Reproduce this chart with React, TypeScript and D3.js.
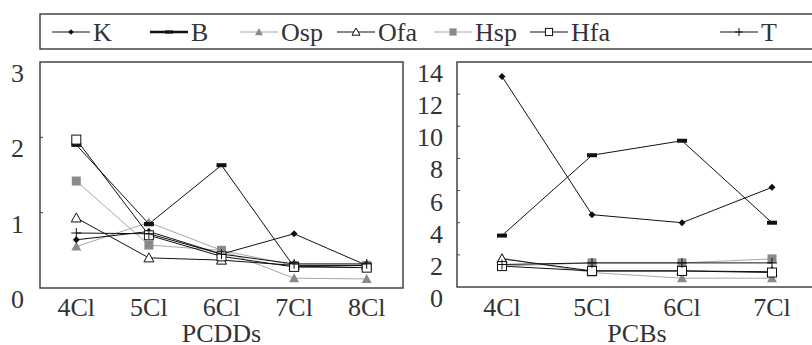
import React from "react";
import * as d3 from "d3";

// categories
const pcddCats = ["4Cl", "5Cl", "6Cl", "7Cl", "8Cl"];
const pcbCats = ["4Cl", "5Cl", "6Cl", "7Cl"];

// PCDDs series
const kDD = [0.64, 0.75, 0.45, 0.72, 0.3];
const bDD = [1.9, 0.85, 1.63, 0.28, 0.3];
const ospDD = [0.55, 0.87, 0.5, 0.13, 0.12];
const ofaDD = [0.93, 0.4, 0.37, 0.3, 0.3];
const hspDD = [1.42, 0.57, 0.5, 0.3, 0.3];
const hfaDD = [1.97, 0.7, 0.42, 0.28, 0.27];
const tDD = [0.73, 0.72, 0.45, 0.32, 0.32];

// PCBs series
const kCB = [13.1, 4.5, 4.0, 6.2];
const bCB = [3.2, 8.2, 9.1, 4.0];
const ospCB = [1.8, 0.9, 0.55, 0.55];
const ofaCB = [1.75, 1.0, 1.0, 0.95];
const hspCB = [1.3, 1.5, 1.5, 1.75];
const hfaCB = [1.3, 1.0, 1.0, 0.9];
const tCB = [1.4, 1.5, 1.5, 1.5];

const pcddTicks = [0, 1, 2, 3];
const pcbTicks = [0, 2, 4, 6, 8, 10, 12, 14];

const seriesNames = ["K", "B", "Osp", "Ofa", "Hsp", "Hfa", "T"];

const TXT = "#333";
const FS = 26;
const GRAY_M = "#8a8a8a";
const GRAY_L = "#a8a8a8";

const style: Record<string, { line: string; width: number }> = {
  K: { line: "#111", width: 1 },
  B: { line: "#111", width: 1 },
  Osp: { line: GRAY_L, width: 1 },
  Ofa: { line: "#111", width: 1 },
  Hsp: { line: GRAY_L, width: 1 },
  Hfa: { line: "#111", width: 1 },
  T: { line: "#111", width: 1 },
};

function Label(props: any) {
  const { children, ...rest } = props;
  return (
    <text fill={TXT} fontSize={FS} fontFamily="serif" style={{ fontFamily: `"Liberation Serif", serif` }} {...rest}>
      {children}
    </text>
  );
}

function Marker({ name, x, y, s = 1 }: { name: string; x: number; y: number; s?: number }) {
  switch (name) {
    case "K":
      return <path d={`M${x},${y - 3.5 * s}L${x + 3.5 * s},${y}L${x},${y + 3.5 * s}L${x - 3.5 * s},${y}Z`} fill="#111" />;
    case "B":
      return <rect x={x - 5 * s} y={y - 2 * s} width={10 * s} height={4 * s} fill="#111" />;
    case "Osp":
      return <path d={`M${x},${y - 5 * s}L${x + 5 * s},${y + 4 * s}L${x - 5 * s},${y + 4 * s}Z`} fill={GRAY_M} />;
    case "Ofa":
      return (
        <path
          d={`M${x},${y - 5 * s}L${x + 5 * s},${y + 4 * s}L${x - 5 * s},${y + 4 * s}Z`}
          fill="#fff"
          stroke="#111"
          strokeWidth={1}
        />
      );
    case "Hsp":
      return <rect x={x - 4.5 * s} y={y - 4.5 * s} width={9 * s} height={9 * s} fill={GRAY_M} />;
    case "Hfa":
      return (
        <rect x={x - 4.5 * s} y={y - 4.5 * s} width={9 * s} height={9 * s} fill="#fff" stroke="#111" strokeWidth={1} />
      );
    default:
      return (
        <path d={`M${x - 5 * s},${y}H${x + 5 * s}M${x},${y - 5 * s}V${y + 5 * s}`} stroke="#111" strokeWidth={1} />
      );
  }
}

type PanelProps = {
  cats: string[];
  data: number[][];
  ticks: number[];
  box: { x0: number; x1: number; y0: number; y1: number };
  yMax: number;
  labelX: number;
  title: string;
};

function Panel({ cats, data, ticks, box, yMax, labelX, title }: PanelProps) {
  const x = d3.scalePoint<string>().domain(cats).range([box.x0, box.x1]).padding(0.5);
  const y = d3.scaleLinear().domain([0, yMax]).range([box.y1, box.y0]);
  const line = d3
    .line<number>()
    .x((_, i) => x(cats[i]) as number)
    .y((d) => y(d));
  const order = [2, 4, 0, 1, 3, 5, 6];
  return (
    <g>
      <rect
        x={box.x0}
        y={box.y0}
        width={box.x1 - box.x0}
        height={box.y1 - box.y0}
        fill="none"
        stroke="#444"
        strokeWidth={1.5}
      />
      {ticks.slice(1, -1).map((t) => (
        <line key={t} x1={box.x0} x2={box.x0 + 3} y1={y(t)} y2={y(t)} stroke="#444" />
      ))}
      {ticks.map((t) => (
        <Label key={t} x={labelX} y={y(t) + 20} textAnchor="end">
          {t}
        </Label>
      ))}
      {cats.map((c) => (
        <Label key={c} x={x(c)} y={316} textAnchor="middle">
          {c}
        </Label>
      ))}
      <Label x={(box.x0 + box.x1) / 2} y={342} textAnchor="middle">
        {title}
      </Label>
      {order.map((si) => {
        const name = seriesNames[si];
        return (
          <g key={name}>
            <path d={line(data[si]) || ""} fill="none" stroke={style[name].line} strokeWidth={style[name].width} />
            {data[si].map((v, i) => (
              <Marker key={i} name={name} x={x(cats[i]) as number} y={y(v)} />
            ))}
          </g>
        );
      })}
    </g>
  );
}

const legendX = [52, 150, 240, 337, 434, 530, 720];

export default function App() {
  const legY = 32;
  return (
    <svg width={812} height={345} style={{ position: "absolute", left: 0, top: 0 }}>
      <rect x={0} y={0} width={812} height={345} fill="#fff" />
      <rect x={40} y={14} width={800} height={35} fill="none" stroke="#444" strokeWidth={1.5} />
      {seriesNames.map((name, i) => {
        const x0 = legendX[i];
        return (
          <g key={name}>
            <line
              x1={x0}
              x2={x0 + 38}
              y1={legY}
              y2={legY}
              stroke={style[name].line}
              strokeWidth={name === "B" ? 2.5 : 1.2}
            />
            <Marker name={name} x={x0 + 19} y={legY} s={0.8} />
            <Label x={x0 + 41} y={legY + 9}>
              {name}
            </Label>
          </g>
        );
      })}
      <Panel
        cats={pcddCats}
        data={[kDD, bDD, ospDD, ofaDD, hspDD, hfaDD, tDD]}
        ticks={pcddTicks}
        box={{ x0: 40, x1: 403, y0: 62, y1: 288 }}
        yMax={3}
        labelX={24}
        title="PCDDs"
      />
      <Panel
        cats={pcbCats}
        data={[kCB, bCB, ospCB, ofaCB, hspCB, hfaCB, tCB]}
        ticks={pcbTicks}
        box={{ x0: 457, x1: 817, y0: 62, y1: 287 }}
        yMax={14}
        labelX={443}
        title="PCBs"
      />
    </svg>
  );
}
